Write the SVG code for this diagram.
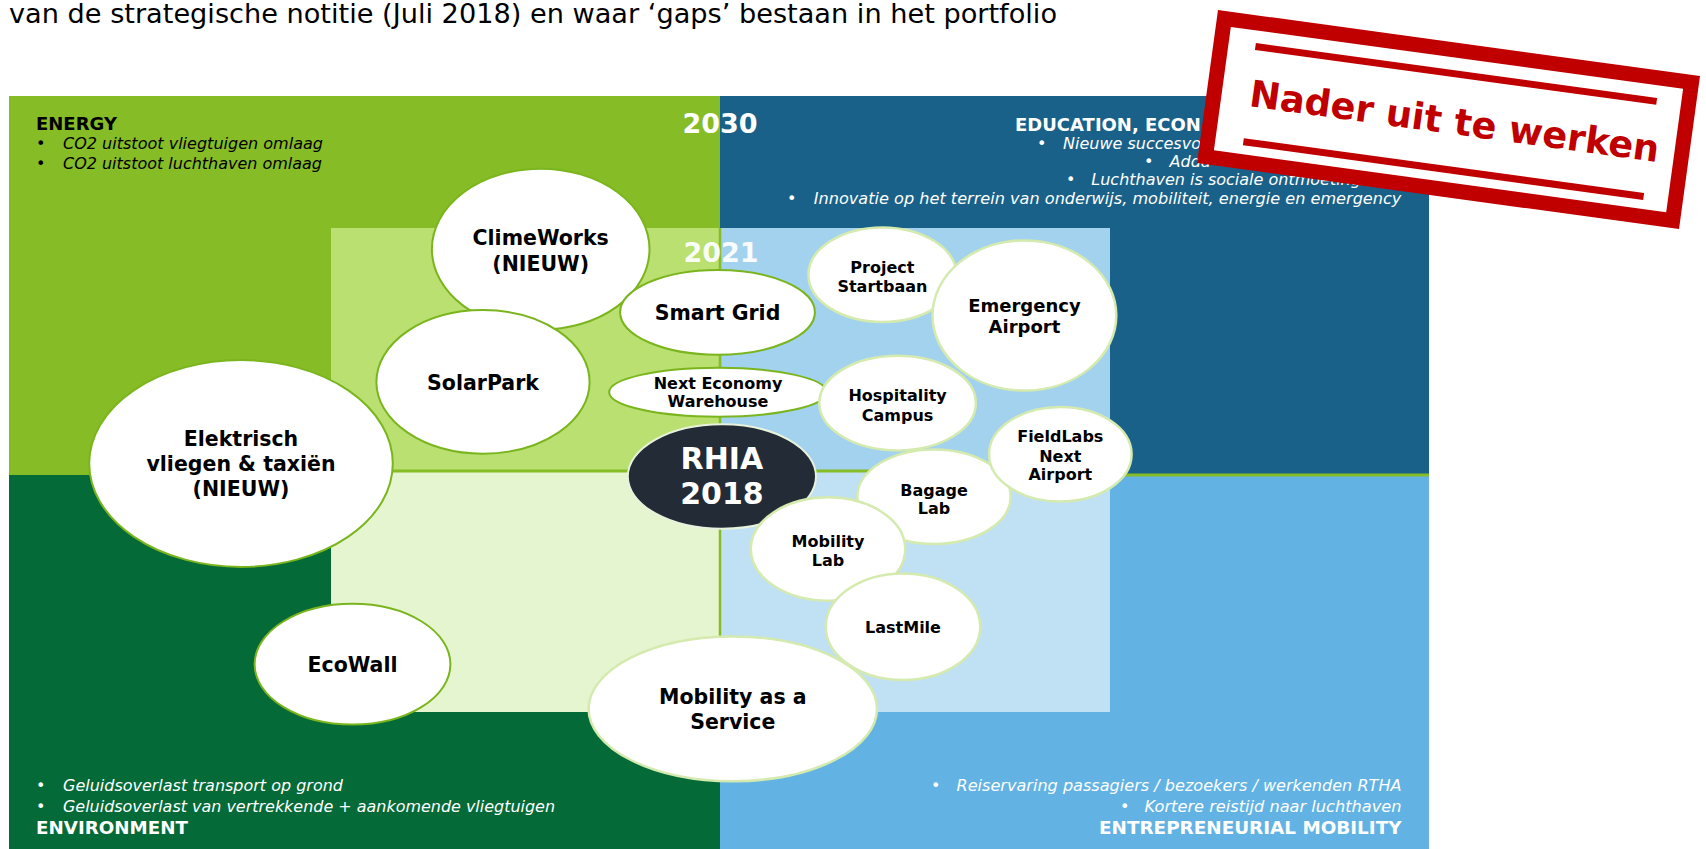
<svg xmlns="http://www.w3.org/2000/svg" width="1706" height="849" viewBox="0 0 1706 849">
<style>
text{font-family:"DejaVu Sans",Verdana,sans-serif}
.h{font-weight:bold;font-size:18px}
.it{font-style:italic;font-size:16px}
.w{fill:#fff}
.k{fill:#000}
.yr{font-weight:bold;font-size:27px;fill:#fff;text-anchor:middle}
.lbl{font-weight:bold;text-anchor:middle;fill:#000}
.a ellipse{fill:#fff;stroke:#7ab51d;stroke-width:2}
.b ellipse{fill:#fff;stroke:#d4eaae;stroke-width:2.5}
.s20{font-size:20.5px}
.s18{font-size:18px}
.s16{font-size:16px}
</style>
<rect width="1706" height="849" fill="#fff"/>
<text x="9" y="23" font-size="26" textLength="1048" lengthAdjust="spacingAndGlyphs" class="k">van de strategische notitie (Juli 2018) en waar ‘gaps’ bestaan in het portfolio</text>

<g id="quadrants">
<rect x="9" y="96" width="711" height="379" fill="#86bc25"/>
<rect x="720" y="96" width="709" height="379" fill="#1a6189"/>
<rect x="9" y="475" width="711" height="374" fill="#046a38"/>
<rect x="720" y="475" width="709" height="374" fill="#62b3e4"/>
<line x1="1100" y1="475" x2="1429" y2="475" stroke="#86bc25" stroke-width="3"/>
<rect x="331" y="228" width="389" height="243" fill="#b9e070"/>
<rect x="720" y="228" width="390" height="243" fill="#a2d2ee"/>
<rect x="331" y="471" width="389" height="241" fill="#e5f5d0"/>
<rect x="720" y="471" width="390" height="241" fill="#c0e0f4"/>
<line x1="720" y1="228" x2="720" y2="712" stroke="#86bc25" stroke-width="2.5"/>
<line x1="331" y1="471" x2="1110" y2="471" stroke="#86bc25" stroke-width="3"/>
<text class="yr" x="720" y="133">2030</text>
<text class="yr" x="721" y="262" fill-opacity="0.95">2021</text>
</g>

<g id="energy">
<text class="h k" x="36" y="130">ENERGY</text>
<text class="it k" x="36" y="149">•</text>
<text class="it k" x="63" y="149" textLength="260" lengthAdjust="spacingAndGlyphs">CO2 uitstoot vliegtuigen omlaag</text>
<text class="it k" x="36" y="169">•</text>
<text class="it k" x="63" y="169" textLength="259" lengthAdjust="spacingAndGlyphs">CO2 uitstoot luchthaven omlaag</text>
</g>

<g id="education">
<text class="h w" x="1015" y="131">EDUCATION, ECON</text>
<text class="it w" x="1037" y="149">•</text>
<text class="it w" x="1063" y="149">Nieuwe succesvo</text>
<text class="it w" x="1144" y="166.5">•</text>
<text class="it w" x="1169.6" y="166.5">Adda</text>
<text class="it w" x="1066" y="185">•</text>
<text class="it w" x="1091.3" y="185">Luchthaven is sociale ontmoeting</text>
<text class="it w" x="787" y="203.5">•</text>
<text class="it w" x="1401.4" y="203.5" text-anchor="end" textLength="587.6" lengthAdjust="spacingAndGlyphs">Innovatie op het terrein van onderwijs, mobiliteit, energie en emergency</text>
</g>

<g id="environment">
<text class="it w" x="36" y="791">•</text>
<text class="it w" x="63" y="791" textLength="280" lengthAdjust="spacingAndGlyphs">Geluidsoverlast transport op grond</text>
<text class="it w" x="36" y="812">•</text>
<text class="it w" x="63" y="812" textLength="492" lengthAdjust="spacingAndGlyphs">Geluidsoverlast van vertrekkende + aankomende vliegtuigen</text>
<text class="h w" x="36" y="833.5" textLength="152" lengthAdjust="spacingAndGlyphs">ENVIRONMENT</text>
</g>

<g id="mobility">
<text class="it w" x="931" y="791">•</text>
<text class="it w" x="1401.5" y="791" text-anchor="end" textLength="445" lengthAdjust="spacingAndGlyphs">Reiservaring passagiers / bezoekers / werkenden RTHA</text>
<text class="it w" x="1120" y="812">•</text>
<text class="it w" x="1401.5" y="812" text-anchor="end" textLength="257" lengthAdjust="spacingAndGlyphs">Kortere reistijd naar luchthaven</text>
<text class="h w" x="1401.5" y="833.5" text-anchor="end" textLength="302.5" lengthAdjust="spacingAndGlyphs">ENTREPRENEURIAL MOBILITY</text>
</g>

<g id="climeworks" class="a">
<ellipse cx="540.7" cy="249.2" rx="108.8" ry="80.5"/>
<text class="lbl s20" x="540.7" y="245">ClimeWorks</text>
<text class="lbl s20" x="540.7" y="271">(NIEUW)</text>
</g>
<g id="solarpark" class="a">
<ellipse cx="483" cy="381.9" rx="106.6" ry="71.8"/>
<text class="lbl s20" x="483" y="389.5">SolarPark</text>
</g>
<g id="smartgrid" class="a">
<ellipse cx="717.5" cy="312.3" rx="97.4" ry="42.4"/>
<text class="lbl s20" x="717.5" y="320">Smart Grid</text>
</g>
<g id="nexteconomy" class="a">
<ellipse cx="718" cy="392.2" rx="108.8" ry="24.5"/>
<text class="lbl s16" x="718" y="389">Next Economy</text>
<text class="lbl s16" x="718" y="407">Warehouse</text>
</g>
<g id="elektrisch" class="a">
<ellipse cx="241" cy="463.5" rx="151.8" ry="103.4"/>
<text class="lbl s20" x="241" y="446">Elektrisch</text>
<text class="lbl s20" x="241" y="471">vliegen &amp; taxiën</text>
<text class="lbl s20" x="241" y="496">(NIEUW)</text>
</g>
<g id="ecowall" class="a">
<ellipse cx="352.5" cy="664.2" rx="97.9" ry="60.4"/>
<text class="lbl s20" x="352.5" y="672">EcoWall</text>
</g>
<g id="maas" class="b">
<ellipse cx="732.8" cy="708.8" rx="144.2" ry="72.4"/>
<text class="lbl s20" x="732.8" y="704">Mobility as a</text>
<text class="lbl s20" x="732.8" y="729">Service</text>
</g>
<g id="startbaan" class="b">
<ellipse cx="882.4" cy="274.7" rx="74" ry="47.3"/>
<text class="lbl s16" x="882.4" y="272.5">Project</text>
<text class="lbl s16" x="882.4" y="292">Startbaan</text>
</g>
<g id="emergency" class="b">
<ellipse cx="1024.4" cy="315.5" rx="91.9" ry="75.1"/>
<text class="lbl s18" x="1024.4" y="312">Emergency</text>
<text class="lbl s18" x="1024.4" y="333">Airport</text>
</g>
<g id="hospitality" class="b">
<ellipse cx="897.6" cy="403.1" rx="78.3" ry="47.3"/>
<text class="lbl s16" x="897.6" y="401">Hospitality</text>
<text class="lbl s16" x="897.6" y="420.5">Campus</text>
</g>
<g id="rhia">
<ellipse cx="721.9" cy="476.5" rx="94.1" ry="52.2" fill="#232b37" stroke="#e8f2dc" stroke-width="2"/>
<text class="lbl" x="721.9" y="469" font-size="30" style="fill:#fff">RHIA</text>
<text class="lbl" x="721.9" y="504" font-size="30" style="fill:#fff">2018</text>
</g>
<g id="bagage" class="b">
<ellipse cx="934" cy="496.7" rx="76.7" ry="47.3"/>
<text class="lbl s16" x="934" y="495.5">Bagage</text>
<text class="lbl s16" x="934" y="514">Lab</text>
</g>
<g id="fieldlabs" class="b">
<ellipse cx="1060.3" cy="454.2" rx="71.3" ry="47.3"/>
<text class="lbl s16" x="1060.3" y="442">FieldLabs</text>
<text class="lbl s16" x="1060.3" y="461.5">Next</text>
<text class="lbl s16" x="1060.3" y="480">Airport</text>
</g>
<g id="mobilitylab" class="b">
<ellipse cx="828" cy="549" rx="77.2" ry="51.7"/>
<text class="lbl s16" x="828" y="546.5">Mobility</text>
<text class="lbl s16" x="828" y="566">Lab</text>
</g>
<g id="lastmile" class="b">
<ellipse cx="903" cy="626.7" rx="77.2" ry="53.3"/>
<text class="lbl s16" x="903" y="632.5">LastMile</text>
</g>

<g id="connectors"></g>

<g id="stamp" transform="translate(1218,10) rotate(7.8)">
<rect x="7.5" y="7.5" width="471.5" height="139.5" fill="#fff" stroke="#c00000" stroke-width="15"/>
<line x1="42" y1="31" x2="447" y2="31" stroke="#c00000" stroke-width="7"/>
<line x1="43" y1="127" x2="447" y2="127" stroke="#c00000" stroke-width="7"/>
<text x="43" y="91" font-size="37" font-weight="bold" fill="#c00000" textLength="413" lengthAdjust="spacingAndGlyphs">Nader uit te werken</text>
</g>
</svg>
